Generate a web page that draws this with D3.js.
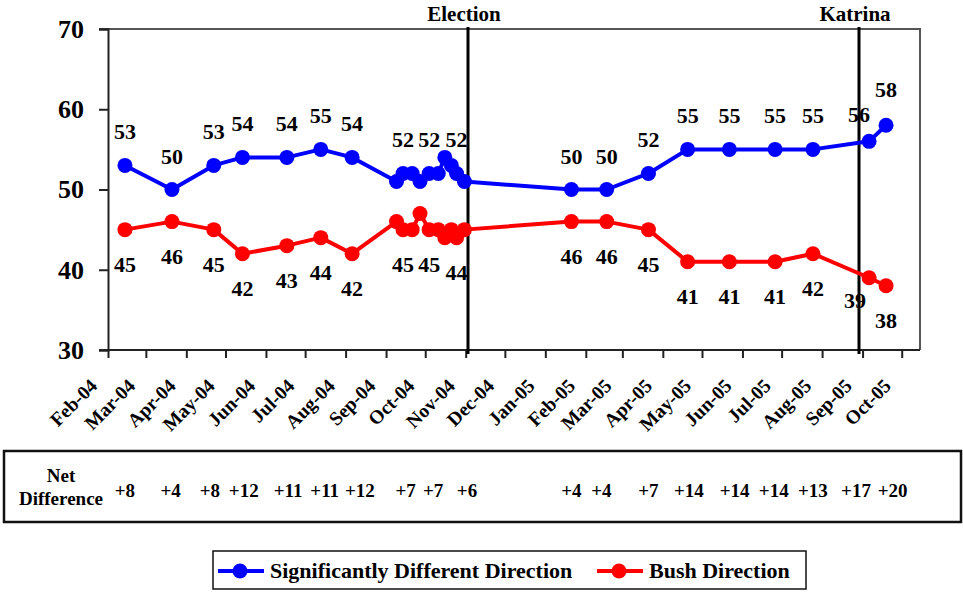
<!DOCTYPE html>
<html>
<head>
<meta charset="utf-8">
<script src="https://cdn.jsdelivr.net/npm/d3@7"></script>
<style>
  body { margin: 0; background: #fff; }
  svg { display: block; }
  svg text { font-family: "Liberation Serif", Tinos, "DejaVu Serif", "Times New Roman", serif !important; font-weight: bold; fill: #000; }
</style>
</head>
<body>
<svg width="963" height="593"></svg>
<script>
// poll dates shared by both series
const pollDates = [
  '2004-02-14', '2004-03-21', '2004-04-22', '2004-05-14', '2004-06-17',
  '2004-07-13', '2004-08-06', '2004-09-09', '2004-09-14', '2004-09-21',
  '2004-09-27', '2004-10-04', '2004-10-11', '2004-10-16', '2004-10-21',
  '2004-10-25', '2004-10-31', '2005-01-21', '2005-02-17', '2005-03-21',
  '2005-04-20', '2005-05-22', '2005-06-26', '2005-07-25', '2005-09-06',
  '2005-09-19',
]
const differentDirection = [53, 50, 53, 54, 54, 55, 54, 51, 52, 52, 51, 52, 52, 54, 53, 52, 51, 50, 50, 52, 55, 55, 55, 55, 56, 58]
const bushDirection = [45, 46, 45, 42, 43, 44, 42, 46, 45, 45, 47, 45, 45, 44, 45, 44, 45, 46, 46, 45, 41, 41, 41, 42, 39, 38]
// which points carry a value label
const labelled = [1, 1, 1, 1, 1, 1, 1, 0, 1, 0, 0, 1, 0, 0, 0, 1, 0, 1, 1, 1, 1, 1, 1, 1, 1, 1]

// net difference table row
const netDates = [
  '2004-02-14', '2004-03-20', '2004-04-19', '2004-05-15', '2004-06-18',
  '2004-07-16', '2004-08-12', '2004-09-16', '2004-10-07', '2004-11-02',
  '2005-01-21', '2005-02-13', '2005-03-21', '2005-04-21', '2005-05-26',
  '2005-06-25', '2005-07-25', '2005-08-27', '2005-09-24',
]
const netLabels = ['+8', '+4', '+8', '+12', '+11', '+11', '+12', '+7', '+7', '+6',
  '+4', '+4', '+7', '+14', '+14', '+14', '+13', '+17', '+20']

const events = [
  { date: '2004-11-03', name: 'Election' },
  { date: '2005-08-29', name: 'Katrina' },
]
const yTicks = [30, 40, 50, 60, 70]
const seriesNames = ['Significantly Different Direction', 'Bush Direction']
const colors = ['#0000ff', '#ff0000']

const parse = d3.utcParse('%Y-%m-%d')
const svg = d3.select('svg')

const x = d3.scaleUtc()
  .domain([parse('2004-02-01'), parse('2005-10-15')])
  .range([108, 920])
const y = d3.scaleLinear()
  .domain([30, 70])
  .range([350, 29])

// plot frame (top + right)
svg.append('path')
  .attr('d', `M99,29H920V350`)
  .attr('fill', 'none')
  .attr('stroke', '#555')
  .attr('stroke-width', 2)

// y axis
const yAxis = svg.append('g')
  .attr('transform', 'translate(108,0)')
  .call(d3.axisLeft(y).tickValues(yTicks).tickSize(9).tickPadding(15))
yAxis.select('.domain').attr('stroke', '#222').attr('stroke-width', 2)
yAxis.selectAll('.tick line').attr('stroke', '#222').attr('stroke-width', 2)
yAxis.selectAll('.tick text').attr('font-size', 26)

// x axis
const months = d3.utcMonth.range(parse('2004-02-01'), parse('2005-10-02'))
const xAxis = svg.append('g')
  .attr('transform', 'translate(0,350)')
  .call(d3.axisBottom(x).tickValues(months).tickSize(8).tickFormat(d3.utcFormat('%b-%y')))
xAxis.select('.domain').attr('stroke', '#222').attr('stroke-width', 2)
  .attr('d', 'M99,0H920')
xAxis.selectAll('.tick line').attr('stroke', '#222').attr('stroke-width', 2)
xAxis.selectAll('.tick text')
  .attr('font-size', 19.5)
  .attr('text-anchor', 'end')
  .attr('dy', null)
  .attr('y', null)
  .attr('transform', 'translate(-10,37) rotate(-45)')

// event lines
events.forEach(e => {
  const ex = Math.round(x(parse(e.date)))
  svg.append('line')
    .attr('x1', ex).attr('x2', ex)
    .attr('y1', 27).attr('y2', 354)
    .attr('stroke', '#000').attr('stroke-width', 3)
  svg.append('text')
    .attr('x', ex - 4).attr('y', 21)
    .attr('text-anchor', 'middle')
    .attr('font-size', 21)
    .text(e.name)
})

// series
const dates = pollDates.map(parse)
const line = d3.line()
  .x(d => x(d[0]))
  .y(d => y(d[1]))

const series = [differentDirection, bushDirection]
series.forEach((vals, s) => {
  const pts = vals.map((v, i) => [dates[i], v])
  const g = svg.append('g')
  g.append('path')
    .attr('d', line(pts))
    .attr('fill', 'none')
    .attr('stroke', colors[s])
    .attr('stroke-width', 4)
    .attr('stroke-linejoin', 'round')
  g.selectAll('circle')
    .data(pts)
    .join('circle')
    .attr('cx', d => x(d[0]))
    .attr('cy', d => y(d[1]))
    .attr('r', 7.5)
    .attr('fill', colors[s])
})

// value labels (a couple are nudged around the Katrina line)
const nudge = {
  '0-24': [-10, 7], '0-25': [0, -2],
  '1-24': [-14, -12], '1-25': [0, 0],
}
series.forEach((vals, s) => {
  svg.append('g')
    .selectAll('text')
    .data(vals.map((v, i) => ({ v, i })).filter(d => labelled[d.i]))
    .join('text')
    .attr('x', d => x(dates[d.i]) + (nudge[`${s}-${d.i}`] || [0, 0])[0])
    .attr('y', d => y(d.v) + (s === 0 ? -26 : 42) + (nudge[`${s}-${d.i}`] || [0, 0])[1])
    .attr('text-anchor', 'middle')
    .attr('font-size', 22)
    .text(d => d.v)
})

// net difference table
svg.append('rect')
  .attr('x', 4).attr('y', 451)
  .attr('width', 957).attr('height', 71)
  .attr('fill', 'none')
  .attr('stroke', '#111')
  .attr('stroke-width', 2.5)
svg.append('text')
  .attr('x', 61).attr('y', 482)
  .attr('text-anchor', 'middle')
  .attr('font-size', 19)
  .text('Net')
svg.append('text')
  .attr('x', 61).attr('y', 505)
  .attr('text-anchor', 'middle')
  .attr('font-size', 19)
  .text('Difference')
svg.append('g')
  .selectAll('text')
  .data(netLabels)
  .join('text')
  .attr('x', (d, i) => x(parse(netDates[i])))
  .attr('y', 497)
  .attr('text-anchor', 'middle')
  .attr('font-size', 19)
  .text(d => d)

// legend
const legend = svg.append('g')
legend.append('rect')
  .attr('x', 213).attr('y', 551)
  .attr('width', 593).attr('height', 38)
  .attr('fill', '#fff')
  .attr('stroke', '#111')
  .attr('stroke-width', 1.5)
const legendX = [218, 597]
seriesNames.forEach((name, s) => {
  const lx = legendX[s]
  legend.append('line')
    .attr('x1', lx).attr('x2', lx + 46)
    .attr('y1', 571).attr('y2', 571)
    .attr('stroke', colors[s]).attr('stroke-width', 4)
  legend.append('circle')
    .attr('cx', lx + 22).attr('cy', 571).attr('r', 7.5)
    .attr('fill', colors[s])
  legend.append('text')
    .attr('x', lx + 52).attr('y', 578)
    .attr('font-size', 22)
    .text(name)
})
</script>
</body>
</html>
